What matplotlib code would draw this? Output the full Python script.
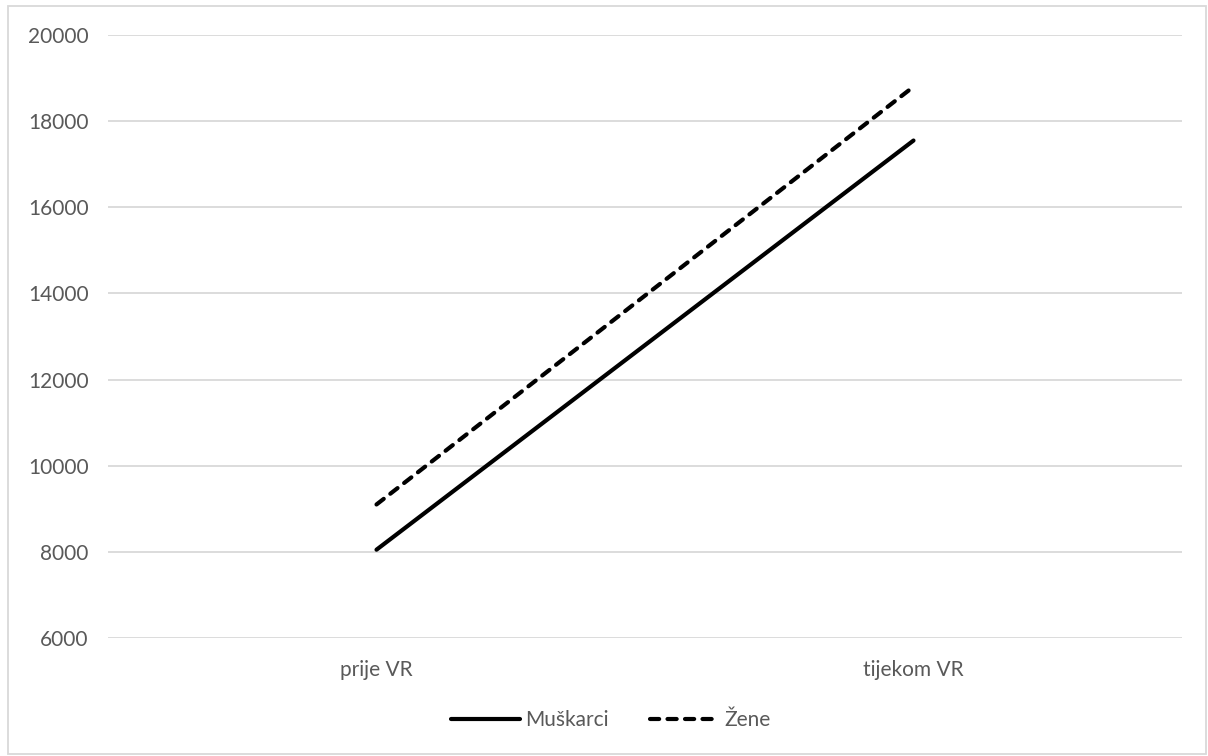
import matplotlib.pyplot as plt
from matplotlib.patches import Rectangle

categories = ["prije VR", "tijekom VR"]
muskarci = [8050, 17550]
zene = [9100, 18800]
yticks = [6000, 8000, 10000, 12000, 14000, 16000, 18000, 20000]

plt.rcParams["font.family"] = ["Lato", "DejaVu Sans"]

fig = plt.figure(figsize=(12.08, 7.56), dpi=100)
ax = fig.add_axes([108 / 1208, 1 - 638 / 756, (1182 - 108) / 1208, (638 - 35) / 756])

x = range(len(categories))
ax.plot(x, muskarci, color="black", lw=3, solid_capstyle="round", label="Muškarci")
ax.plot(x, zene, color="black", lw=3, linestyle=(0, (2.2, 2.0)), dash_capstyle="round", label="Žene")

ax.set_xlim(-0.5, 1.5)
ax.set_ylim(6000, 20000)
ax.set_yticks(yticks)
ax.set_xticks(list(x))
ax.set_xticklabels(categories)
ax.grid(axis="y", color="#d9d9d9", lw=1.3)
ax.set_axisbelow(True)
for s in ax.spines.values():
    s.set_visible(False)
ax.tick_params(length=0, labelsize=15, colors="#595959", pad=14)
ax.tick_params(axis="x", pad=16)

leg = fig.legend(loc="center", bbox_to_anchor=(611 / 1208, 1 - 720 / 756), ncol=2, frameon=False,
                 fontsize=15, handlelength=3.3, handletextpad=0.25, columnspacing=2.0)
for t in leg.get_texts():
    t.set_color("#595959")

fig.patches.append(Rectangle((8 / 1208, 0.002), 1198 / 1208, 1 - 6 / 756 - 0.002, transform=fig.transFigure,
                             fill=False, edgecolor="#d9d9d9", lw=1.3))

fig.savefig("out.png", dpi=100)
